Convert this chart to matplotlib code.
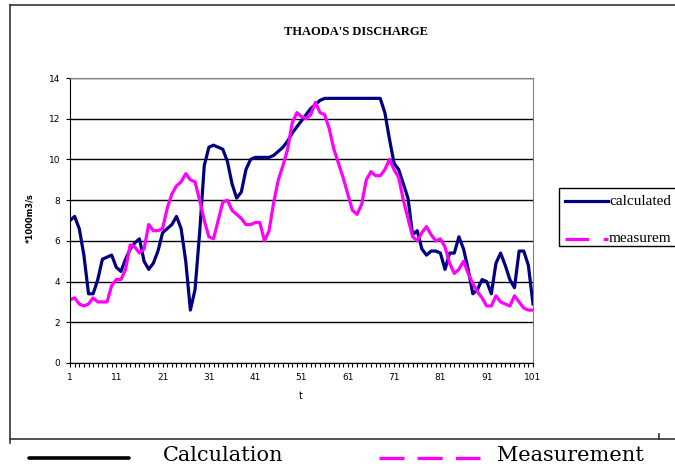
import matplotlib

matplotlib.use("Agg")
import matplotlib.pyplot as plt
import numpy as np
from matplotlib.lines import Line2D
from matplotlib.patches import Rectangle

plt.rcParams["lines.scale_dashes"] = False

t = np.arange(1, 102)
calculated = [
    7.0, 7.2, 6.6, 5.3, 3.4, 3.4, 4.1, 5.1, 5.2, 5.3,
    4.7, 4.5, 5.1, 5.6, 5.9, 6.1, 5.0, 4.6, 4.9, 5.5,
    6.4, 6.6, 6.8, 7.2, 6.6, 5.0, 2.6, 3.6, 6.4, 9.7,
    10.6, 10.7, 10.6, 10.5, 9.9, 8.8, 8.1, 8.4, 9.5, 10.0,
    10.1, 10.1, 10.1, 10.1, 10.2, 10.4, 10.6, 10.9, 11.3, 11.6,
    11.9, 12.2, 12.5, 12.7, 12.9, 13.0, 13.0, 13.0, 13.0, 13.0,
    13.0, 13.0, 13.0, 13.0, 13.0, 13.0, 13.0, 13.0, 12.3, 11.0,
    9.8, 9.5, 8.8, 8.1, 6.3, 6.5, 5.6, 5.3, 5.5, 5.5,
    5.4, 4.6, 5.4, 5.4, 6.2, 5.6, 4.6, 3.4, 3.6, 4.1,
    4.0, 3.4, 4.9, 5.4, 4.8, 4.1, 3.7, 5.5, 5.5, 4.8,
    2.9,
]
measured = [
    3.1, 3.2, 2.9, 2.8, 2.9, 3.2, 3.0, 3.0, 3.0, 3.8,
    4.1, 4.1, 4.6, 5.8, 5.7, 5.4, 5.6, 6.8, 6.5, 6.5,
    6.6, 7.6, 8.3, 8.7, 8.9, 9.3, 9.0, 8.9, 8.0, 7.0,
    6.2, 6.1, 7.0, 7.9, 8.0, 7.5, 7.3, 7.1, 6.8, 6.8,
    6.9, 6.9, 6.0, 6.5, 7.9, 9.0, 9.7, 10.5, 11.8, 12.3,
    12.1, 12.0, 12.2, 12.8, 12.3, 12.2, 11.5, 10.5, 9.8, 9.1,
    8.3, 7.5, 7.3, 7.8, 9.0, 9.4, 9.2, 9.2, 9.5, 10.0,
    9.5, 9.1, 8.0, 7.1, 6.2, 6.0, 6.4, 6.7, 6.3, 6.0,
    6.1, 5.7, 4.9, 4.4, 4.6, 5.0, 4.4, 3.9, 3.5, 3.2,
    2.8, 2.8, 3.3, 3.0, 2.9, 2.8, 3.3, 3.0, 2.7, 2.6,
    2.6,
]
xtick_vals = list(range(1, 102, 10))
ytick_vals = list(range(0, 15, 2))

W, H = 675, 469
NAVY = "#000080"
MAGENTA = "#ff00ff"


def fx(px):
    return px / W


def fy(py):
    return 1 - py / H


fig = plt.figure(figsize=(W / 100, H / 100), dpi=100)
ax = fig.add_axes([fx(70), fy(363), (533 - 70) / W, (363 - 78) / H])

ax.plot(t, calculated, color=NAVY, linewidth=2.3, solid_joinstyle="round")
ax.plot(t, measured, color=MAGENTA, linewidth=2.3, solid_joinstyle="round")

ax.set_xlim(1, 101)
ax.set_ylim(0, 14)
ax.set_xticks(xtick_vals)
ax.set_xticks(t, minor=True)
ax.set_yticks(ytick_vals)
ax.tick_params(axis="both", which="major", labelsize=6.5, length=3, width=0.8, pad=4)
ax.tick_params(axis="x", which="minor", length=3, width=0.8)
ax.yaxis.grid(True, color="black", linewidth=1)
ax.set_axisbelow(True)
for side in ["top", "right"]:
    ax.spines[side].set_color("#808080")
ax.spines["left"].set_color("black")
ax.spines["bottom"].set_color("black")

fig.text(fx(301), fy(396), "t", fontsize=7, ha="center", va="center")
fig.text(fx(30), fy(218), "*1000m3/s", fontsize=6, fontweight="bold",
         rotation=90, ha="center", va="center")
fig.text(fx(356), fy(32), "THAODA'S DISCHARGE", fontsize=9, fontweight="bold",
         family="Liberation Serif", ha="center", va="center")

# outer chart frame (right side runs off the page)
frame_kw = dict(color="#333333", linewidth=1.2, transform=fig.transFigure)
fig.add_artist(Line2D([fx(10), fx(675)], [fy(5), fy(5)], **frame_kw))
fig.add_artist(Line2D([fx(10), fx(10)], [fy(5), fy(443)], **frame_kw))
fig.add_artist(Line2D([fx(10), fx(675)], [fy(439), fy(439)], **frame_kw))
fig.add_artist(Line2D([fx(659), fx(659)], [fy(434), fy(439)], **frame_kw))

# legend box
fig.add_artist(Rectangle((fx(559), fy(246)), fx(140), (246 - 188) / H, fill=False,
                         edgecolor="black", linewidth=1, transform=fig.transFigure))
fig.add_artist(Line2D([fx(565), fx(608)], [fy(201), fy(201)], color=NAVY,
                      linewidth=2.3, transform=fig.transFigure))
fig.add_artist(Line2D([fx(565), fx(608)], [fy(239), fy(239)], color=MAGENTA,
                      linewidth=2.3, dashes=(17, 10.5), transform=fig.transFigure))
fig.text(fx(609), fy(201), "calculated", fontsize=11, family="Liberation Serif",
         ha="left", va="center")
fig.text(fx(609), fy(239), "measurem", fontsize=11, family="Liberation Serif",
         ha="left", va="center")

# caption key under the chart
fig.add_artist(Line2D([fx(29), fx(129)], [fy(458), fy(458)], color="black",
                      linewidth=2.6, solid_capstyle="round", transform=fig.transFigure))
fig.text(fx(163), fy(455), "Calculation", fontsize=15, family="DejaVu Serif",
         ha="left", va="center")
fig.add_artist(Line2D([fx(379), fx(480)], [fy(458), fy(458)], color=MAGENTA,
                      linewidth=2.4, dashes=(18, 9.5), transform=fig.transFigure))
fig.text(fx(497), fy(455), "Measurement", fontsize=15, family="DejaVu Serif",
         ha="left", va="center")

fig.savefig("out.png", dpi=100, facecolor="white")
